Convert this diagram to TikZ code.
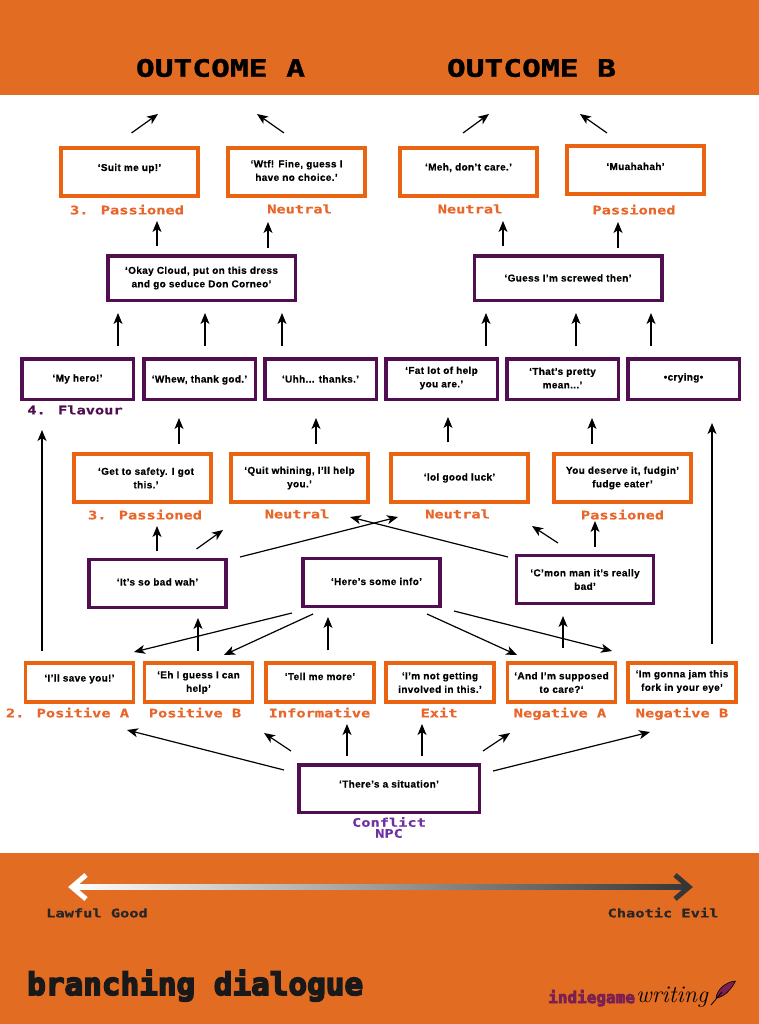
\documentclass[tikz,border=0pt]{standalone}
\usepackage{fontspec}
\usepackage{xcolor}
\usepackage{tikz}
\usetikzlibrary{arrows.meta,positioning,calc}
\newfontfamily\speechfont[LetterSpace=3.5,FakeBold=.4]{Liberation Sans}
\newfontfamily\pixelfont[FakeStretch=1.3,FakeBold=.6]{DejaVu Sans Mono}
\newfontfamily\outcomefont[FakeStretch=1.3,FakeBold=1.5]{DejaVu Sans Mono}
\newfontfamily\logofont[FakeBold=5]{DejaVu Sans Mono}
\definecolor{bandorange}{HTML}{E36C23}
\definecolor{boxorange}{HTML}{EA6310}
\definecolor{labelorange}{HTML}{E8662A}
\definecolor{npcpurple}{HTML}{510F52}
\definecolor{conflictpurple}{HTML}{7030A0}
\definecolor{logopurple}{HTML}{7A2150}
\definecolor{chaosgrey}{HTML}{363636}
\newcommand{\liftup}[1]{\rule[-#1pt]{0pt}{0pt}}
\tikzset{%
  flow directed/.style={%
    line width=1.2pt,
    >={Stealth[length=11pt,width=9pt,inset=3pt]},
    ->
  },
  speech box/.style={%
    draw,
    fill=white,
    inner sep=0pt,
    align=center,
    font=\fontsize{10}{13.5}\selectfont\speechfont\bfseries
  },
  player box/.style={speech box,draw=boxorange,line width=3.7pt},
  npc box/.style={speech box,draw=npcpurple,line width=3.5pt},
  big box/.style={minimum width=137.4pt,minimum height=48pt},
  wide box/.style={minimum width=187.5pt,minimum height=44.5pt},
  flavour box/.style={minimum width=111.5pt,minimum height=40.5pt},
  answer box/.style={minimum width=107.8pt,minimum height=39.4pt},
  lift/.style={text height=7pt,text depth=#1pt},
  branch label/.style={%
    inner sep=0pt,
    text=labelorange,
    text height=8.7pt,
    text depth=0pt,
    font=\fontsize{11.8}{12}\selectfont\pixelfont\bfseries
  }
}
\begin{document}
\begin{tikzpicture}[x=1pt,y=-1pt]
  \useasboundingbox (0,0) rectangle (759,1024);
  \fill [white] (0,0) rectangle (759,1024);
  \fill [bandorange] (0,0) rectangle (759,95);
  \fill [bandorange] (0,853) rectangle (759,1024);
  % outcomes
  \node [inner sep=0pt,font=\fontsize{24}{24}\selectfont\outcomefont\bfseries] (outa) at (220.5,68) {OUTCOME A};
  \node [inner sep=0pt,font=\fontsize{24}{24}\selectfont\outcomefont\bfseries] (outb) at (531.5,68) {OUTCOME B};
  % row 3, second pass
  \node [player box,big box,lift=9] (suit) at (129.5,172) {‘Suit me up!’};
  \node [player box,big box] (wtf) at (296.5,172) {‘Wtf! Fine, guess I\\have no choice.’\liftup{3}};
  \node [player box,big box,lift=10] (meh) at (468.5,172) {‘Meh, don’t care.’};
  \node [player box,big box,lift=7] (muah) at (635.5,170) {‘Muahahah’};
  \node [branch label] (passa) at (127,210) {3. Passioned};
  \node [branch label] (neua) at (299.5,209) {Neutral};
  \node [branch label] (neub) at (470,209) {Neutral};
  \node [branch label] (passb) at (634,210) {Passioned};
  % npc replies
  \node [npc box,wide box] (cloud) at (201.5,278) {‘Okay Cloud, put on this dress\\and go seduce Don Corneo’};
  \node [npc box,wide box,lift=0] (guess) at (568,278) {‘Guess I’m screwed then’};
  % flavour
  \node [npc box,flavour box,lift=2] (hero) at (77.5,379) {‘My hero!’};
  \node [npc box,flavour box,lift=0] (whew) at (199.5,379) {‘Whew, thank god.’};
  \node [npc box,flavour box,lift=0] (uhh) at (320.5,379) {‘Uhh... thanks.’};
  \node [npc box,flavour box] (fat) at (441.5,379) {‘Fat lot of help\\you are.’\liftup{4}};
  \node [npc box,flavour box] (mean) at (562.5,379) {‘That’s pretty\\mean...’\liftup{2}};
  \node [npc box,flavour box,lift=4] (crying) at (683.5,379) {•crying•};
  \node [branch label,text=npcpurple] (flav) at (75,410) {4. Flavour};
  % row 3, first pass
  \node [player box,big box] (safety) at (142.5,478) {\hspace*{7pt}‘Get to safety. I got\\\hspace*{7pt}this.’};
  \node [player box,big box] (whining) at (299.5,478) {‘Quit whining, I’ll help\\you.’};
  \node [player box,big box,lift=2] (luck) at (459.5,478) {‘lol good luck’};
  \node [player box,big box] (fudge) at (622.5,478) {You deserve it, fudgin’\\fudge eater’};
  \node [branch label] (passc) at (145,515) {3. Passioned};
  \node [branch label] (neuc) at (297,514) {Neutral};
  \node [branch label] (neud) at (457.5,514) {Neutral};
  \node [branch label] (passd) at (622.5,515) {Passioned};
  % npc row
  \node [npc box,big box,lift=3] (wah) at (157.5,583.5) {‘It’s so bad wah’};
  \node [npc box,big box,lift=2] (info) at (371.5,582.5) {\hspace*{10pt}‘Here’s some info’};
  \node [npc box,big box] (cmon) at (585,579.5) {‘C’mon man it’s really\\bad’};
  % answers
  \node [player box,answer box,lift=9] (save) at (79.5,682.5) {‘I’ll save you!’};
  \node [player box,answer box] (help) at (198.5,682.5) {‘Eh I guess I can\\help’};
  \node [player box,answer box,lift=12] (more) at (320,682.5) {‘Tell me more’};
  \node [player box,answer box] (notme) at (440,682.5) {‘I’m not getting\\involved in this.’};
  \node [player box,answer box] (supposed) at (561.5,682.5) {‘And I’m supposed\\to care?‘};
  \node [player box,answer box] (jam) at (682,682.5) {‘Im gonna jam this\\fork in your eye’\liftup{4}};
  \node [branch label] (posa) at (67.5,713) {2. Positive A};
  \node [branch label] (posb) at (195,713) {Positive B};
  \node [branch label] (inf) at (319.5,713) {Informative};
  \node [branch label] (exit) at (439,713) {Exit};
  \node [branch label] (nega) at (560,713) {Negative A};
  \node [branch label] (negb) at (682,713) {Negative B};
  % conflict
  \node [npc box,minimum width=180.5pt,minimum height=47.5pt,lift=9] (sit) at (389,788.5) {‘There’s a situation’};
  \node [inner sep=0pt,align=center,text=conflictpurple,font=\fontsize{11.8}{11}\selectfont\pixelfont\bfseries] (npc) at (389,827.5) {Conflict\\NPC};
  % connectors
  \draw [flow directed] ([shift={(2,-39)}]suit.center) -- ([shift={(-62.5,46)}]outa.center);
  \draw [flow directed] ([shift={(-12.5,-39)}]wtf.center) -- ([shift={(36.5,46)}]outa.center);
  \draw [flow directed] ([shift={(-5.5,-39)}]meh.center) -- ([shift={(-42.5,46)}]outb.center);
  \draw [flow directed] ([shift={(-28.5,-37)}]muah.center) -- ([shift={(48.5,46)}]outb.center);
  \draw [flow directed] ([shift={(-44.5,-32)}]cloud.center) -- ([shift={(27.5,49)}]suit.center);
  \draw [flow directed] ([shift={(66.5,-30)}]cloud.center) -- ([shift={(-28.5,50)}]wtf.center);
  \draw [flow directed] ([shift={(-65,-32)}]guess.center) -- ([shift={(34.5,49)}]meh.center);
  \draw [flow directed] ([shift={(50,-30)}]guess.center) -- ([shift={(-17.5,52)}]muah.center);
  \draw [flow directed] ([shift={(40.5,-33)}]hero.center) -- ([shift={(-83.5,35)}]cloud.center);
  \draw [flow directed] ([shift={(5.5,-33)}]whew.center) -- ([shift={(3.5,35)}]cloud.center);
  \draw [flow directed] ([shift={(-38.5,-33)}]uhh.center) -- ([shift={(80.5,35)}]cloud.center);
  \draw [flow directed] ([shift={(44.5,-33)}]fat.center) -- ([shift={(-82,35)}]guess.center);
  \draw [flow directed] ([shift={(13.5,-33)}]mean.center) -- ([shift={(8,35)}]guess.center);
  \draw [flow directed] ([shift={(-32.5,-33)}]crying.center) -- ([shift={(83,35)}]guess.center);
  \draw [flow directed] ([shift={(36.5,-34)}]safety.center) -- ([shift={(-20.5,39)}]whew.center);
  \draw [flow directed] ([shift={(16.5,-34)}]whining.center) -- ([shift={(-4.5,39)}]uhh.center);
  \draw [flow directed] ([shift={(-11.5,-36)}]luck.center) -- ([shift={(6.5,38)}]fat.center);
  \draw [flow directed] ([shift={(-30.5,-34)}]fudge.center) -- ([shift={(29.5,39)}]mean.center);
  \draw [flow directed] ([shift={(-.5,-32.5)}]wah.center) -- ([shift={(14.5,48)}]safety.center);
  \draw [flow directed] ([shift={(39,-34.5)}]wah.center) -- ([shift={(-76.5,52)}]whining.center);
  \draw [flow directed] ([shift={(82.5,-26.5)}]wah.center) -- ([shift={(-61.5,39)}]luck.center);
  \draw [flow directed] ([shift={(-77,-22.5)}]cmon.center) -- ([shift={(50.5,39)}]whining.center);
  \draw [flow directed] ([shift={(-27,-36.5)}]cmon.center) -- ([shift={(72.5,48)}]luck.center);
  \draw [flow directed] ([shift={(10,-32.5)}]cmon.center) -- ([shift={(-27.5,43)}]fudge.center);
  \draw [flow directed] ([shift={(-.5,-31.5)}]help.center) -- ([shift={(40.5,34.5)}]wah.center);
  \draw [flow directed] ([shift={(8,-32.5)}]more.center) -- ([shift={(-43.5,34.5)}]info.center);
  \draw [flow directed] ([shift={(1.5,-34.5)}]supposed.center) -- ([shift={(-22,36.5)}]cmon.center);
  \draw [flow directed] ([shift={(-79.5,30.5)}]info.center) -- ([shift={(54.5,-30.5)}]save.center);
  \draw [flow directed] ([shift={(-58.5,31.5)}]info.center) -- ([shift={(25.5,-27.5)}]help.center);
  \draw [flow directed] ([shift={(55.5,31.5)}]info.center) -- ([shift={(-44.5,-27.5)}]supposed.center);
  \draw [flow directed] ([shift={(82.5,28.5)}]info.center) -- ([shift={(-70,-31.5)}]jam.center);
  \draw [flow directed] ([shift={(-37.5,-31.5)}]save.center) -- ([shift={(-35.5,51)}]hero.center);
  \draw [flow directed] ([shift={(30,-38.5)}]jam.center) -- ([shift={(28.5,44)}]crying.center);
  \draw [flow directed] ([shift={(-105,-18.5)}]sit.center) -- ([shift={(47.5,47.5)}]save.center);
  \draw [flow directed] ([shift={(-98,-37.5)}]sit.center) -- ([shift={(65.5,50.5)}]help.center);
  \draw [flow directed] ([shift={(-42,-32.5)}]sit.center) -- ([shift={(27,41.5)}]more.center);
  \draw [flow directed] ([shift={(33,-32.5)}]sit.center) -- ([shift={(-18,41.5)}]notme.center);
  \draw [flow directed] ([shift={(94,-37.5)}]sit.center) -- ([shift={(-51.5,50.5)}]supposed.center);
  \draw [flow directed] ([shift={(104,-17.5)}]sit.center) -- ([shift={(-32,49.5)}]jam.center);
  % alignment scale
  \coordinate (lawful) at (72,887);
  \coordinate (chaotic) at (689,887);
  \shade [left color=white,right color=chaosgrey] ($(lawful)+(0,-2.5)$) rectangle ($(chaotic)+(0,2.5)$);
  \draw [white,line width=5pt] ($(lawful)+(14,-12)$) -- (lawful) -- ($(lawful)+(14,12)$);
  \draw [chaosgrey,line width=5pt] ($(chaotic)+(-14,-12)$) -- (chaotic) -- ($(chaotic)+(-14,12)$);
  \node [branch label,text=black!85] (good) at (97,913) {Lawful Good};
  \node [branch label,text=black!85] (evil) at (663,913) {Chaotic Evil};
  % footer
  \node [anchor=base west,inner sep=0pt,text=black!90,font=\fontsize{31}{31}\selectfont\logofont\bfseries] (title) at (27,995) {branching dialogue};
  \node [anchor=base west,inner sep=0pt,text=logopurple,font=\fontsize{16}{16}\selectfont\logofont\bfseries] (indie) at (548,1003) {indiegame};
  \node [anchor=base west,inner sep=0pt,text=black,font=\fontsize{24}{24}\selectfont\itshape] (writing) at (636,1002) {writing};
  \filldraw [fill=logopurple,draw=black,line width=.6pt] (735.5,981) .. controls (725,982) and (717,990) .. (716,998) .. controls (724,997) and (731,990) .. (735.5,981);
  \draw [black,line width=.8pt] (722,992) -- (711,1005);
\end{tikzpicture}
\end{document}
